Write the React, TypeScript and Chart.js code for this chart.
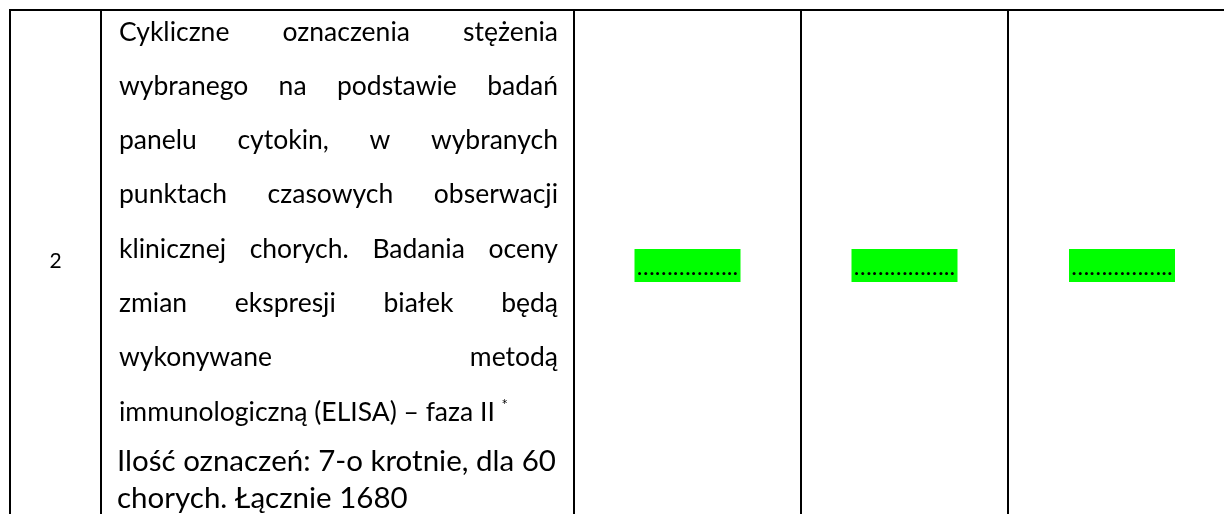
import React, { useEffect, useRef } from "react";
import { Chart, registerables } from "chart.js";

Chart.register(...registerables);

// Table layout (table units = page pixels)
const columnEdges = [10, 101, 574, 801, 1008, 1236];
const tableTop = 10;
const rowNumber = "2";
const descriptionLines = [
  "Cykliczne oznaczenia stężenia",
  "wybranego na podstawie badań",
  "panelu cytokin, w wybranych",
  "punktach czasowych obserwacji",
  "klinicznej chorych. Badania oceny",
  "zmian ekspresji białek będą",
  "wykonywane metodą",
  "immunologiczną (ELISA) – faza II",
];
const descriptionFootnote = "*";
const quantityLines = ["Ilość oznaczeń: 7-o krotnie, dla 60", "chorych. Łącznie 1680"];
const highlightedColumns = [2, 3, 4];
const highlightText = "……………..";

const FONT = "Lato, 'Open Sans', sans-serif";

const tablePlugin = {
  id: "tableDraw",
  afterDraw(chart: any) {
    const ctx: CanvasRenderingContext2D = chart.ctx;
    const xs = chart.scales.x;
    const ys = chart.scales.y;
    const px = (v: number) => xs.getPixelForValue(v);
    const py = (v: number) => ys.getPixelForValue(v);
    ctx.save();
    // borders
    ctx.strokeStyle = "#000";
    ctx.lineWidth = 2;
    ctx.beginPath();
    ctx.moveTo(px(columnEdges[0]) - 1, py(tableTop));
    ctx.lineTo(px(columnEdges[columnEdges.length - 1]), py(tableTop));
    columnEdges.forEach((e) => {
      ctx.moveTo(px(e), py(tableTop));
      ctx.lineTo(px(e), py(600));
    });
    ctx.stroke();

    // number cell
    ctx.fillStyle = "#000";
    ctx.font = "21px " + FONT;
    ctx.textAlign = "center";
    ctx.textBaseline = "alphabetic";
    ctx.fillText(rowNumber, (px(columnEdges[0]) + px(columnEdges[1])) / 2, py(268));

    // description, justified
    const left = px(columnEdges[1] + 18);
    const right = px(columnEdges[2] - 16);
    const bodyFont = "26.5px " + FONT;
    ctx.textAlign = "left";
    ctx.font = bodyFont;
    descriptionLines.forEach((line, i) => {
      const y = py(40.5 + 54.3 * i);
      const last = i === descriptionLines.length - 1;
      const words = line.split(" ");
      if (last || words.length < 2) {
        ctx.fillText(line, left, y);
        if (last) {
          const w = ctx.measureText(line + " ").width;
          ctx.font = "15px " + FONT;
          ctx.fillText(descriptionFootnote, left + w, y - 11);
          ctx.font = bodyFont;
        }
        return;
      }
      const widths = words.map((w) => ctx.measureText(w).width);
      const total = widths.reduce((a, b) => a + b, 0);
      const gap = (right - left - total) / (words.length - 1);
      let x = left;
      words.forEach((w, j) => {
        ctx.fillText(w, x, y);
        x += widths[j] + gap;
      });
    });

    ctx.font = "29.5px " + FONT;
    quantityLines.forEach((line, i) => {
      ctx.fillText(line, px(columnEdges[1] + 16), py(471 + 37 * i));
    });

    // highlighted placeholders
    highlightedColumns.forEach((c) => {
      const cx = (px(columnEdges[c]) + px(columnEdges[c + 1])) / 2;
      ctx.fillStyle = "#00ff00";
      ctx.fillRect(cx - 53, py(249), 106, py(282) - py(249));
      ctx.fillStyle = "#000";
      ctx.font = "24px " + FONT;
      ctx.textAlign = "center";
      ctx.fillText(highlightText, cx, py(275));
      ctx.textAlign = "left";
    });
    ctx.restore();
  },
};

export default function App() {
  const ref = useRef<HTMLCanvasElement>(null);
  useEffect(() => {
    document.body.style.margin = "0";
    const chart = new Chart(ref.current as HTMLCanvasElement, {
      type: "scatter",
      data: { datasets: [] },
      options: {
        animation: false,
        responsive: false,
        layout: { padding: 0 },
        plugins: { legend: { display: false }, tooltip: { enabled: false } },
        scales: {
          x: { type: "linear", min: 0, max: 1224, display: false },
          y: { type: "linear", min: 0, max: 514, reverse: true, display: false },
        },
      },
      plugins: [tablePlugin],
    });
    return () => chart.destroy();
  }, []);
  return (
    <div style={{ width: 1224, height: 514, background: "#fff" }}>
      <canvas ref={ref} width={1224} height={514} />
    </div>
  );
}
